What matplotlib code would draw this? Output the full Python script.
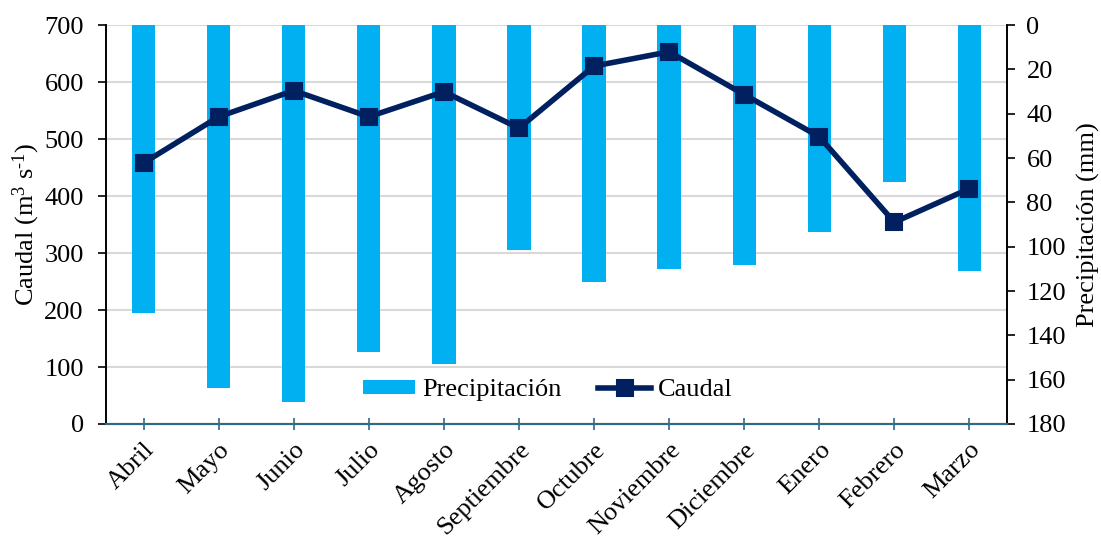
import matplotlib
matplotlib.use("Agg")
import matplotlib.pyplot as plt
import matplotlib.transforms as mtransforms

plt.rcParams['font.family'] = ['Liberation Serif', 'DejaVu Serif']
plt.rcParams['mathtext.fontset'] = 'custom'
plt.rcParams['mathtext.rm'] = 'Liberation Serif'
plt.rcParams['mathtext.it'] = 'Liberation Serif:italic'
plt.rcParams['font.size'] = 19

# Monthly data
meses = ["Abril", "Mayo", "Junio", "Julio", "Agosto", "Septiembre",
         "Octubre", "Noviembre", "Diciembre", "Enero", "Febrero", "Marzo"]
precipitacion = [129.8, 163.6, 169.9, 147.4, 152.9, 101.6,
                 115.8, 109.9, 108.1, 93.2, 71.0, 111.0]
caudal = [458, 539, 585, 539, 583, 519,
          628, 653, 578, 504, 354, 413]

bar_color = "#00B0F0"
line_color = "#002060"
axis_blue = "#2E6A8A"

fig = plt.figure(figsize=(11.01, 5.38), dpi=100)
ax = fig.add_axes([0.0963, 0.2119, 0.8183, 0.7416])
ax2 = ax.twinx()

x = list(range(len(meses)))

# Bars on right axis (inverted)
ax2.bar(x, precipitacion, width=0.31, color=bar_color, zorder=2,
        label="Precipitación")
ax2.set_ylim(180, 0)
ax2.set_yticks(range(0, 181, 20))

# Caudal line on left axis, drawn in front
ax.set_zorder(ax2.get_zorder() + 1)
ax.patch.set_visible(False)
ax.plot(x, caudal, color=line_color, lw=4, marker="s", markersize=12,
        markerfacecolor=line_color, markeredgecolor=line_color,
        markeredgewidth=1.5, solid_joinstyle="round",
        label="Caudal", zorder=3)
ax.set_ylim(0, 700)
ax.set_yticks(range(0, 701, 100))
ax.set_xlim(-0.5, len(meses) - 0.5)
ax.set_xticks(x)
ax.set_xticklabels(meses, rotation=45, ha="right", rotation_mode="anchor")

# Gridlines behind bars, at left-axis ticks
trans = mtransforms.blended_transform_factory(ax2.transAxes, ax.transData)
ax2.hlines(ax.get_yticks(), 0, 1, transform=trans, color="#D9D9D9",
           lw=1.5, zorder=0)

ax.set_ylabel(r"Caudal (m$^{3}$ s$^{\text{-}1}$)", labelpad=2)
ax2.set_ylabel("Precipitación (mm)", labelpad=8)

for a in (ax, ax2):
    a.spines["top"].set_visible(False)
    a.spines["bottom"].set_color(axis_blue)
    a.spines["bottom"].set_linewidth(1.5)
    a.spines["left"].set_linewidth(1.2)
    a.spines["right"].set_linewidth(1.2)

ax.tick_params(axis="x", direction="inout", length=9, width=1.2,
               color=axis_blue, pad=6)
ax.tick_params(axis="y", direction="out", length=6, width=1.2, pad=10)
ax2.tick_params(axis="y", direction="out", length=6, width=1.2, pad=8)

h1, l1 = ax2.get_legend_handles_labels()
h2, l2 = ax.get_legend_handles_labels()
ax.legend(h1 + h2, l1 + l2, loc="center", bbox_to_anchor=(0.49, 0.085),
          ncol=2, frameon=False, handlelength=2.0, handleheight=0.45,
          columnspacing=1.4, handletextpad=0.25)

fig.savefig("out.png", dpi=100)
